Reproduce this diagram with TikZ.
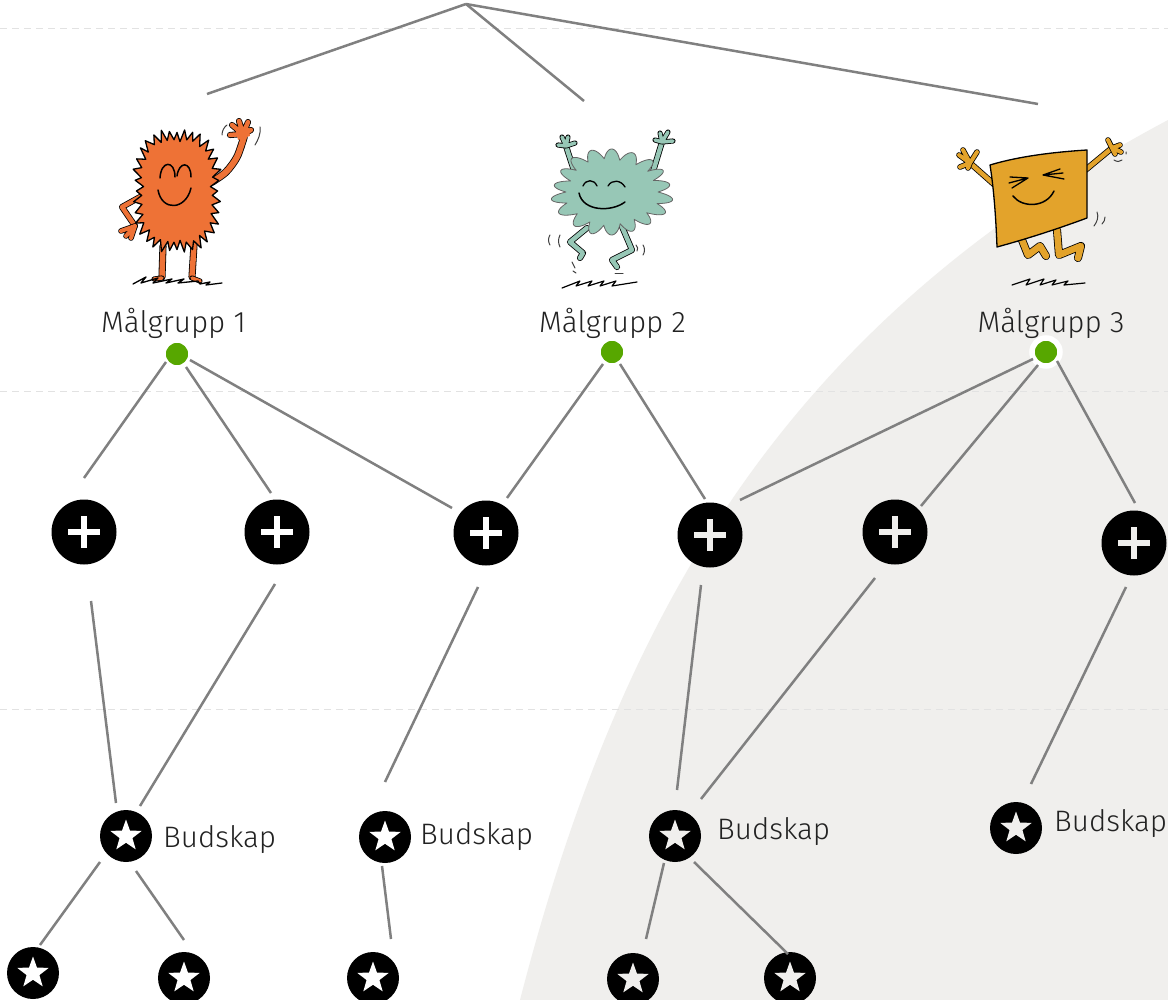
\documentclass[tikz,border=0pt]{standalone}
\usepackage{fontspec}
\setmainfont{Fira Sans Light}
\usetikzlibrary{shapes.geometric}
\definecolor{bggray}{HTML}{F0EFED}
\definecolor{linegray}{HTML}{808080}
\definecolor{dashgray}{HTML}{E2E2E2}
\definecolor{dotgreen}{HTML}{57A700}
\definecolor{orangem}{HTML}{EE7236}
\definecolor{tealm}{HTML}{97C7B6}
\definecolor{yellowm}{HTML}{E3A32B}
\definecolor{inkc}{HTML}{222222}
\tikzset{
  conn/.style={draw=linegray,line width=2.5pt},
  guide/.style={draw=dashgray,line width=1pt,dash pattern=on 7pt off 5pt},
  dotnode/.style={circle,fill=dotgreen,draw=white,line width=5.5pt,minimum size=28pt,inner sep=0pt},
  plusnode/.style={circle,fill=black,minimum size=65pt,inner sep=0pt},
  starnode/.style={circle,fill=black,minimum size=52pt,inner sep=0pt},
  starmark/.style={star,star points=5,star point ratio=2.45,minimum size=33pt,inner sep=0pt},
  caption/.style={text=inkc,font=\fontsize{29.6}{31}\selectfont,inner sep=0pt},
  ink/.style={draw=black,line width=1.5pt,line cap=round,line join=round},
  thin ink/.style={draw=black!75,line width=1pt,line cap=round},
  bodyline/.style={draw=black,line width=1.3pt,line join=round},
}
\newcommand{\limb}[3]{%
  \draw[black,line width=#2pt+1.6pt,line cap=round,line join=round] #3;
  \draw[#1,line width=#2pt,line cap=round,line join=round] #3;}
\newcommand{\plusat}[4]{% name, x, y, mark colour
  \node[plusnode] (#1) at (#2,#3) {};
  \draw[#4,line width=5.6pt] ([xshift=-16pt]#1.center) -- ([xshift=16pt]#1.center)
    ([yshift=-16pt]#1.center) -- ([yshift=16pt]#1.center);}
\newcommand{\starat}[4]{% name, x, y, mark colour
  \node[starnode] (#1) at (#2,#3) {};
  \node[starmark,fill=#4] (#1m) at (#1.center) {};}
\newcommand{\conline}[4]{\draw[conn] ([shift={(#2)}]#1.center) -- ([shift={(#4)}]#3.center);}
\begin{document}
\begin{tikzpicture}[x=1pt,y=-1pt]
\clip (0,0) rectangle (1168,1000);
\fill[white] (0,0) rectangle (1168,1000);
% background sweep
\fill[bggray] (520,1000) .. controls (625,593) and (798,317) .. (1168,120) -- (1168,1000) -- cycle;
% guide lines
\draw[guide] (0,28.5) -- (1168,28.5);
\draw[guide] (0,391.5) -- (1168,391.5);
\draw[guide] (0,709.5) -- (1168,709.5);
% top connectors
\coordinate (apex) at (466,4);
\coordinate (m1) at (207,94);
\coordinate (m2) at (584,101);
\coordinate (m3) at (1038,104);
\draw[conn] (apex) -- (m1);
\draw[conn] (apex) -- (m2);
\draw[conn] (apex) -- (m3);

% ---------- creature 1
\limb{orangem}{6}{plot[smooth] coordinates {(212,182) (226,172) (237,157) (244,137)}}
\limb{orangem}{4.5}{(243,134) -- (232,125) (243,134) -- (239,121) (243,134) -- (248,122) (243,134) -- (251,130) (243,134) -- (230,135)}
\fill[orangem] (235,128) -- (249,128) -- (250,136) -- (238,140) -- cycle;
\limb{orangem}{4.5}{(140,197) -- (122,207) -- (135,226)}
\limb{orangem}{4}{(135,226) -- (121,231) (135,226) -- (126,236) (135,226) -- (131,238)}
\limb{orangem}{5.5}{(163,246) -- (162,277) (194,245) -- (192,277)}
\limb{orangem}{3.5}{(162,278) -- (154,279) (192,278) -- (200,281)}
\draw[ink,line width=1.3pt] (133,284) -- (146,277) -- (141,283) -- (158,278) -- (153,283) -- (172,279) -- (166,283) -- (184,279) -- (178,283) -- (198,281) -- (200,284) -- (210,282) -- (206,285) -- (222,283);
\draw[bodyline,fill=orangem] plot[samples=73,domain=0:360,variable=\t]
  ({177+(37+3.6*cos(36*\t)+1*sin(13*\t))*cos(\t)*(1+0.19*abs(sin(2*\t)))},
   {191+(54+4.6*cos(36*\t)+1*cos(23*\t))*sin(\t)*(1+0.13*abs(sin(2*\t)))}) -- cycle;
\draw[ink] (160,178) .. controls (161,160) and (175,160) .. (175,177);
\draw[ink] (177,176) .. controls (179,161) and (191,161) .. (191,177);
\draw[ink] (158,190) .. controls (162,212) and (186,210) .. (191,188);
\draw[thin ink] (222,135) .. controls (222,131) and (224,127) .. (227,125);
\draw[thin ink] (260,127) .. controls (261,134) and (258,140) .. (255,145);

% ---------- creature 2
\limb{tealm}{4.5}{(577,180) -- (566,146) (643,184) -- (652,175) -- (662,142)}
\limb{tealm}{3.5}{(566,146) -- (558,145) (566,146) -- (562,137) (566,146) -- (568,137) (566,146) -- (575,143)}
\limb{tealm}{3.5}{(662,142) -- (655,140) (662,142) -- (660,133) (662,142) -- (668,132) (662,142) -- (673,141)}
\limb{tealm}{4.5}{(587,228) -- (570,242) -- (583,253) -- (580,258)}
\limb{tealm}{4.5}{(620,222) -- (632,250) -- (612,260) -- (617,267)}
\draw[bodyline,fill=tealm,line width=.8pt,draw=black!60] plot[samples=361,domain=0:360,variable=\t]
  ({612+(46+14*abs(sin(9*\t))+2*sin(5*\t))*cos(\t)},
   {192+(33+10*abs(sin(9*\t))+1.5*cos(3*\t))*sin(\t)}) -- cycle;
\draw[ink,line width=1.3pt] (583,186) .. controls (586,179) and (594,179) .. (597,186);
\draw[ink,line width=1.3pt] (608,186) .. controls (612,179) and (621,180) .. (625,187);
\draw[ink] (579,193) .. controls (583,212) and (612,212) .. (625,202);
\draw[thin ink] (550,235) .. controls (548,238) and (548,242) .. (550,245);
\draw[thin ink] (560,235) .. controls (558,239) and (558,243) .. (560,247);
\draw[thin ink] (572,262) -- (575,268) (573,271) -- (576,273);
\draw[thin ink] (643,245) .. controls (645,248) and (645,252) .. (643,255);
\draw[thin ink] (636,245) .. controls (638,247) and (638,249) .. (637,251);
\draw[thin ink] (615,274) -- (623,274);
\draw[ink,line width=1.2pt] (562,288) -- (580,281) -- (576,286) -- (592,281) -- (588,286) -- (604,281) -- (600,286) -- (616,281) -- (612,286) -- (637,282);

% ---------- creature 3
\limb{yellowm}{4.5}{(996,186) -- (970,163)}
\limb{yellowm}{4}{(970,163) -- (959,155) (970,163) -- (963,150) (970,163) -- (977,152) (970,163) -- (960,167) (970,163) -- (968,168)}
\limb{yellowm}{4.5}{(1083,172) -- (1112,148)}
\limb{yellowm}{4}{(1112,148) -- (1108,140) (1112,148) -- (1120,145) (1112,148) -- (1121,152) (1112,148) -- (1115,154)}
\limb{yellowm}{6.5}{(1022,240) -- (1028,255) -- (1040,246) -- (1046,256)}
\limb{yellowm}{6.5}{(1057,230) -- (1059,255) -- (1081,246) -- (1078,258)}
\draw[bodyline,fill=yellowm] (990,165) .. controls (1020,156) and (1055,152) .. (1087,150) -- (1087,218) .. controls (1060,228) and (1030,238) .. (997,247) .. controls (996,220) and (994,190) .. cycle;
\draw[ink,line width=1.3pt] (1010,177) -- (1028,178) -- (1009,183) (1028,178) -- (1012,188);
\draw[ink,line width=1.3pt] (1060,169) -- (1043,175) -- (1063,173) (1043,175) -- (1064,179);
\draw[ink] (1013,196) .. controls (1022,208) and (1046,208) .. (1054,191);
\draw[thin ink] (1097,212) .. controls (1099,217) and (1097,222) .. (1094,226);
\draw[thin ink] (1105,217) .. controls (1105,220) and (1104,222) .. (1102,224);
\draw[thin ink] (1114,160) .. controls (1117,162) and (1120,162) .. (1122,160) (1126,152) -- (1126,154);
\draw[ink,line width=1.2pt] (1012,285) -- (1030,279) -- (1026,285) -- (1044,279) -- (1040,285) -- (1056,280) -- (1052,285) -- (1068,281) -- (1064,285) -- (1085,283);

% ---------- captions
\node[caption,anchor=base] (c1) at (173.5,333) {Målgrupp 1};
\node[caption,anchor=base] (c2) at (612.5,333) {Målgrupp 2};
\node[caption,anchor=base] (c3) at (1051,333) {Målgrupp 3};

% ---------- dots
\node[dotnode] (d1) at (177,354) {};
\node[dotnode] (d2) at (612,352) {};
\node[dotnode] (d3) at (1046,352) {};

% ---------- plus nodes
\plusat{p1}{84}{532}{white}
\plusat{p2}{277}{532}{white}
\plusat{p3}{486}{533}{white}
\plusat{p4}{710}{535}{bggray}
\plusat{p5}{895}{532}{bggray}
\plusat{p6}{1134}{543}{bggray}

% ---------- star nodes
\starat{s1}{126}{836}{white}
\starat{s2}{385}{837}{white}
\starat{s3}{675}{836}{bggray}
\starat{s4}{1016}{828}{bggray}
\starat{b1}{33}{973}{white}
\starat{b2}{184}{978}{white}
\starat{b3}{373}{978}{white}
\starat{b4}{633}{979}{bggray}
\starat{b5}{790}{978}{bggray}

\node[caption,anchor=base west] (l1) at (163,847) {Budskap};
\node[caption,anchor=base west] (l2) at (420,844) {Budskap};
\node[caption,anchor=base west] (l3) at (717,839) {Budskap};
\node[caption,anchor=base west] (l4) at (1054,831) {Budskap};

% ---------- connectors
\conline{d1}{-11,8}{p1}{0,-54}
\conline{d1}{9,13}{p2}{-6,-39}
\conline{d1}{13,6}{p3}{-34,-25}
\conline{d2}{-9,12}{p3}{21,-35}
\conline{d2}{8,12}{p4}{-5,-36}
\conline{d3}{-13,7}{p4}{30,-35}
\conline{d3}{-8,13}{p5}{26,-26}
\conline{d3}{11,9}{p6}{1,-40}
\conline{p1}{7,69}{s1}{-10,-33}
\conline{p2}{-2,52}{s1}{14,-30}
\conline{p3}{-8,54}{s2}{0,-55}
\conline{p4}{-9,50}{s3}{2,-46}
\conline{p5}{-20,46}{s3}{26,-37}
\conline{p6}{-8,44}{s4}{15,-44}
\conline{s1}{-26,26}{b1}{7,-28}
\conline{s1}{10,35}{b2}{0,-38}
\conline{s2}{-3,29}{b3}{18,-39}
\conline{s3}{-11,27}{b4}{13,-40}
\conline{s3}{19,26}{b5}{-2,-24}
\end{tikzpicture}
\end{document}
